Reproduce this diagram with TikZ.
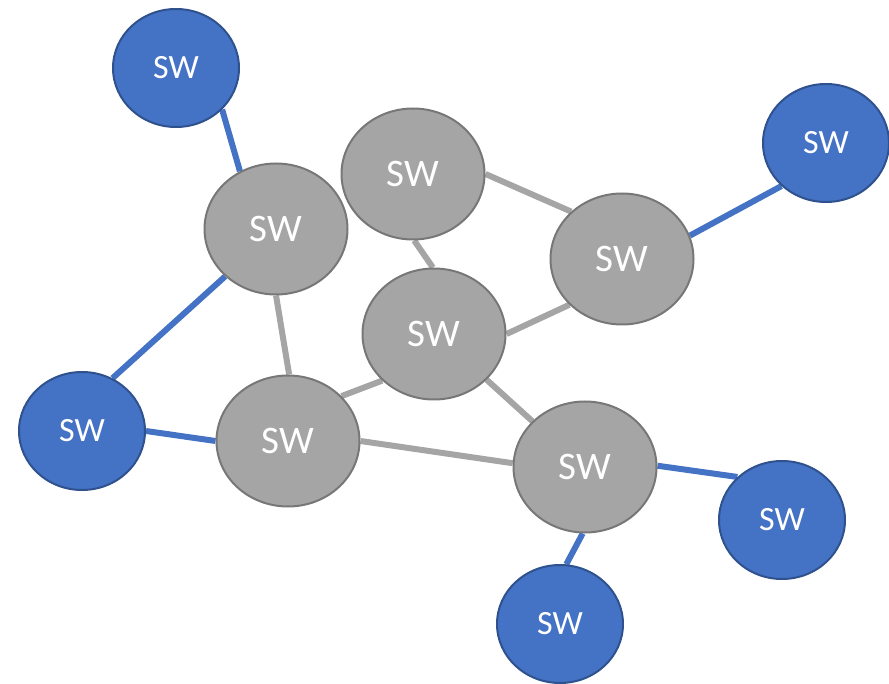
\documentclass[tikz,border=0pt]{standalone}
\usepackage{fontspec}
\setmainfont{Carlito}
\usetikzlibrary{shapes.geometric}
\pgfdeclarelayer{bg}
\pgfsetlayers{bg,main}
\definecolor{bfill}{HTML}{4472C4}
\definecolor{bdraw}{HTML}{2F528F}
\definecolor{gfill}{HTML}{A5A5A5}
\definecolor{gdraw}{HTML}{777777}
\begin{document}
\begin{tikzpicture}[x=1pt,y=-1pt,
  bnode/.style={ellipse,fill=bfill,draw=bdraw,line width=2pt,minimum width=126pt,minimum height=118pt,inner sep=0pt,text=white,font=\fontsize{34}{34}\selectfont},
  gnode/.style={ellipse,fill=gfill,draw=gdraw,line width=2pt,minimum width=143pt,minimum height=131pt,inner sep=0pt,text=white,font=\fontsize{39}{39}\selectfont},
  bedge/.style={draw=bfill,line width=6pt},
  gedge/.style={draw=gfill,line width=6pt}]
\useasboundingbox (0,0) rectangle (889,684);
% nodes
\node[bnode] (B1) at (176,68) {SW};
\node[bnode] (B2) at (826,143) {SW};
\node[bnode] (B3) at (82,431) {SW};
\node[bnode] (B4) at (782,520) {SW};
\node[bnode] (B5) at (560,624) {SW};
\node[gnode] (G1) at (276,229) {SW};
\node[gnode] (G2) at (413,174) {SW};
\node[gnode] (G3) at (622,259) {SW};
\node[gnode] (G4) at (434,334) {SW};
\node[gnode] (G5) at (288,441) {SW};
\node[gnode] (G6) at (585,467) {SW};
% edges behind nodes
\begin{pgfonlayer}{bg}
\path[bedge] (B1.-42) -- (G1.122);
\path[bedge] (B2.224) -- (G3.19);
\path[bedge] (B3.60) -- (G1.223);
\path[bedge] (B3.0) -- (G5.180);
\path[bedge] (G6.1) -- (B4.136);
\path[bedge] (G6.268) -- (B5.84);
\path[gedge] (G2.0) -- (G3.137);
\path[gedge] (G2.-89) -- (G4.91);
\path[gedge] (G4.0) -- (G3.221);
\path[gedge] (G1.-90) -- (G5.89);
\path[gedge] (G5.40) -- (G4.222);
\path[gedge] (G5.0) -- (G6.177);
\path[gedge] (G4.-41) -- (G6.139);
\end{pgfonlayer}
\end{tikzpicture}
\end{document}
